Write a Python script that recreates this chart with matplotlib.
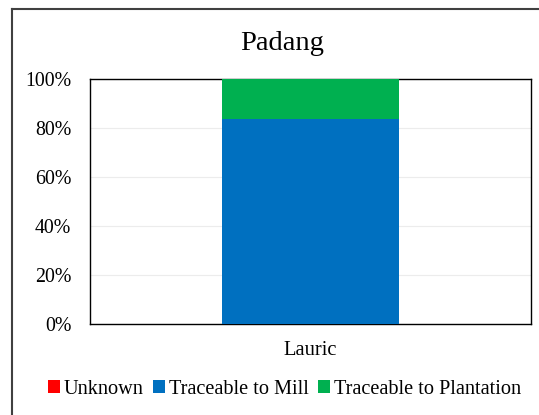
import matplotlib.pyplot as plt
from matplotlib.lines import Line2D

plt.rcParams['font.family'] = ['Liberation Serif', 'DejaVu Serif']

categories = ["Lauric"]
unknown = [0.0]
mill = [83.7]
plantation = [16.3]

series_names = ["Unknown", "Traceable to Mill", "Traceable to Plantation"]
colors = ["#ff0000", "#0070c0", "#00b050"]


def main():
    fig = plt.figure(figsize=(5.39, 4.15), dpi=100)
    ax = fig.add_axes([0.167, 0.219, 0.818, 0.591])

    x = range(len(categories))
    bottom = [0.0] * len(categories)
    for name, vals, color in zip(series_names, [unknown, mill, plantation], colors):
        ax.bar(x, vals, width=0.401, bottom=bottom, color=color, label=name, zorder=3)
        bottom = [b + v for b, v in zip(bottom, vals)]

    ax.set_xlim(-0.5, 0.5)
    ax.set_ylim(0, 100)
    ax.set_yticks(range(0, 101, 20))
    ax.set_yticklabels([f"{v}%" for v in range(0, 101, 20)], fontsize=14.3)
    ax.set_xticks(list(x))
    ax.set_xticklabels(categories, fontsize=14.8)
    ax.tick_params(length=0)
    ax.tick_params(axis='y', pad=13.5)
    ax.tick_params(axis='x', pad=12)
    ax.grid(axis='y', color='#ececec', linewidth=0.8, zorder=0)
    for s in ax.spines.values():
        s.set_color('black')
        s.set_linewidth(1.0)

    fig.text(0.523, 0.895, "Padang", ha='center', va='center', fontsize=20.5)

    fig.legend(loc='center', bbox_to_anchor=(0.528, 0.062), ncol=3, frameon=False,
               fontsize=14.6, handlelength=0.6, handleheight=0.6, handletextpad=0.2,
               columnspacing=0.45)

    # outer chart frame (only left and top edges fall inside the picture)
    fx, fy = 11.5 / 539, 1 - 9 / 415
    fig.lines.append(Line2D([fx, fx], [0, fy], transform=fig.transFigure,
                            color='#404040', linewidth=1.5))
    fig.lines.append(Line2D([fx, 1], [fy, fy], transform=fig.transFigure,
                            color='#404040', linewidth=1.5))

    fig.savefig("out.png", dpi=100)


if __name__ == "__main__":
    main()
